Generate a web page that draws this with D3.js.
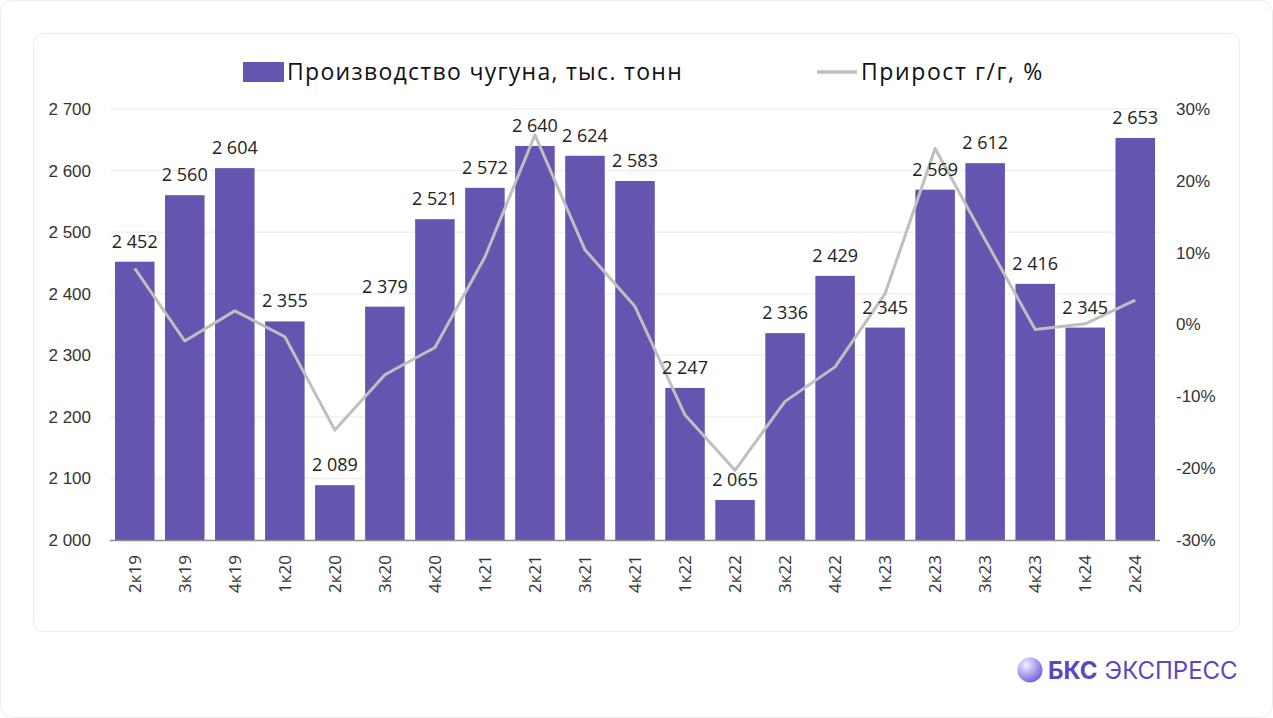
<!DOCTYPE html>
<html><head><meta charset="utf-8">
<script src="https://cdn.jsdelivr.net/npm/d3@7"></script>
<style>
html,body{margin:0;padding:0;background:#fff;}
svg{display:block;font-family:"Open Sans","Noto Sans",sans-serif;}
</style></head>
<body>
<svg id="chart" width="1273" height="718"></svg>
<script>
const categories = ["2к19","3к19","4к19","1к20","2к20","3к20","4к20","1к21","2к21","3к21","4к21","1к22","2к22","3к22","4к22","1к23","2к23","3к23","4к23","1к24","2к24"];
const production = [2452,2560,2604,2355,2089,2379,2521,2572,2640,2624,2583,2247,2065,2336,2429,2345,2569,2612,2416,2345,2653];
const growth = [7.8,-2.3,1.9,-1.7,-14.7,-7.0,-3.2,9.4,26.4,10.4,2.5,-12.6,-20.3,-10.7,-5.9,4.3,24.5,11.8,-0.7,0.1,3.4];
const leftTicks = [2000,2100,2200,2300,2400,2500,2600,2700];
const rightTicks = [-30,-20,-10,0,10,20,30];
const legendLabels = ["Производство чугуна, тыс. тонн","Прирост г/г, %"];

const svg = d3.select("#chart");
const fmt = v => d3.format(",")(v).replace(/,/g," ");

// outer frame
svg.append("rect").attr("x",0.5).attr("y",0.5).attr("width",1272).attr("height",717)
  .attr("rx",12).attr("fill","#fff").attr("stroke","#ececec");
// card
svg.append("rect").attr("x",33.5).attr("y",33.5).attr("width",1206).attr("height",598)
  .attr("rx",10).attr("fill","#fff").attr("stroke","#ebebeb");

const x = d3.scaleBand().domain(categories).range([110,1160]).paddingInner(0.21).paddingOuter(0.1);
const yL = d3.scaleLinear().domain([2000,2700]).range([540,109]);
const yR = d3.scaleLinear().domain([-30,30]).range([540,109]);

// grid
svg.append("g").selectAll("line").data(leftTicks.filter(d=>d>2000)).join("line")
  .attr("x1",110).attr("x2",1160).attr("y1",d=>yL(d)).attr("y2",d=>yL(d))
  .attr("stroke","#f0f0f0").attr("stroke-width",1.5);

// left axis
const gL = svg.append("g").attr("transform","translate(91,0)")
  .call(d3.axisLeft(yL).tickValues(leftTicks).tickFormat(fmt).tickSize(0).tickPadding(0));
gL.select(".domain").remove();
gL.selectAll("text").attr("font-size",17).attr("fill","#333");

// right axis
const gR = svg.append("g").attr("transform","translate(1176,0)")
  .call(d3.axisRight(yR).tickValues(rightTicks).tickFormat(d=>d+"%").tickSize(0).tickPadding(0));
gR.select(".domain").remove();
gR.selectAll("text").attr("font-size",17).attr("fill","#333");

// bars
svg.append("g").selectAll("rect").data(categories).join("rect")
  .attr("x",d=>x(d)).attr("width",x.bandwidth())
  .attr("y",(d,i)=>yL(production[i])).attr("height",(d,i)=>yL(2000)-yL(production[i]))
  .attr("fill","#6654b1");

// x axis line
svg.append("line").attr("x1",110).attr("x2",1160).attr("y1",540.5).attr("y2",540.5)
  .attr("stroke","#8c8c8c").attr("stroke-width",1.5);

// x labels
svg.append("g").selectAll("text").data(categories).join("text")
  .attr("transform",d=>`translate(${x(d)+x.bandwidth()/2+6},555) rotate(-90)`)
  .attr("text-anchor","end").attr("font-size",17).attr("fill","#333").text(d=>d);

// line
const line = d3.line().x((d,i)=>x(categories[i])+x.bandwidth()/2).y(d=>yR(d));
svg.append("path").datum(growth).attr("d",line).attr("fill","none")
  .attr("stroke","#bfbfbf").attr("stroke-width",3).attr("stroke-linejoin","round");

// data labels
svg.append("g").selectAll("text").data(categories).join("text")
  .attr("x",d=>x(d)+x.bandwidth()/2).attr("y",(d,i)=>yL(production[i])-14)
  .attr("text-anchor","middle").attr("font-size",18).attr("fill","#222")
  .text((d,i)=>fmt(production[i]));

// legend
const lg = svg.append("g");
lg.append("rect").attr("x",243).attr("y",62).attr("width",41).attr("height",20).attr("fill","#6654b1");
lg.append("text").attr("x",287).attr("y",80).attr("font-size",23).attr("letter-spacing",1.3).attr("fill","#111").text(legendLabels[0]);
lg.append("line").attr("x1",817).attr("x2",857).attr("y1",72).attr("y2",72).attr("stroke","#bfbfbf").attr("stroke-width",3.5);
lg.append("text").attr("x",861).attr("y",80).attr("font-size",23).attr("letter-spacing",1.6).attr("fill","#111").text(legendLabels[1]);

// logo
const defs = svg.append("defs");
const grad = defs.append("radialGradient").attr("id","lg1").attr("cx","0.35").attr("cy","0.3").attr("r","0.8");
grad.append("stop").attr("offset","0%").attr("stop-color","#f3f0ff");
grad.append("stop").attr("offset","45%").attr("stop-color","#b6a9f0");
grad.append("stop").attr("offset","100%").attr("stop-color","#6a55d8");
svg.append("circle").attr("cx",1030).attr("cy",670).attr("r",12.5).attr("fill","url(#lg1)");
const lt = svg.append("text").attr("x",1048).attr("y",679).attr("font-size",24).attr("fill","#5a48c0")
  .attr("font-family","Inter,'Open Sans',sans-serif");
lt.append("tspan").attr("font-weight",700).text("БКС");
lt.append("tspan").attr("font-weight",400).attr("dx",7).text("ЭКСПРЕСС");
</script>
</body></html>
